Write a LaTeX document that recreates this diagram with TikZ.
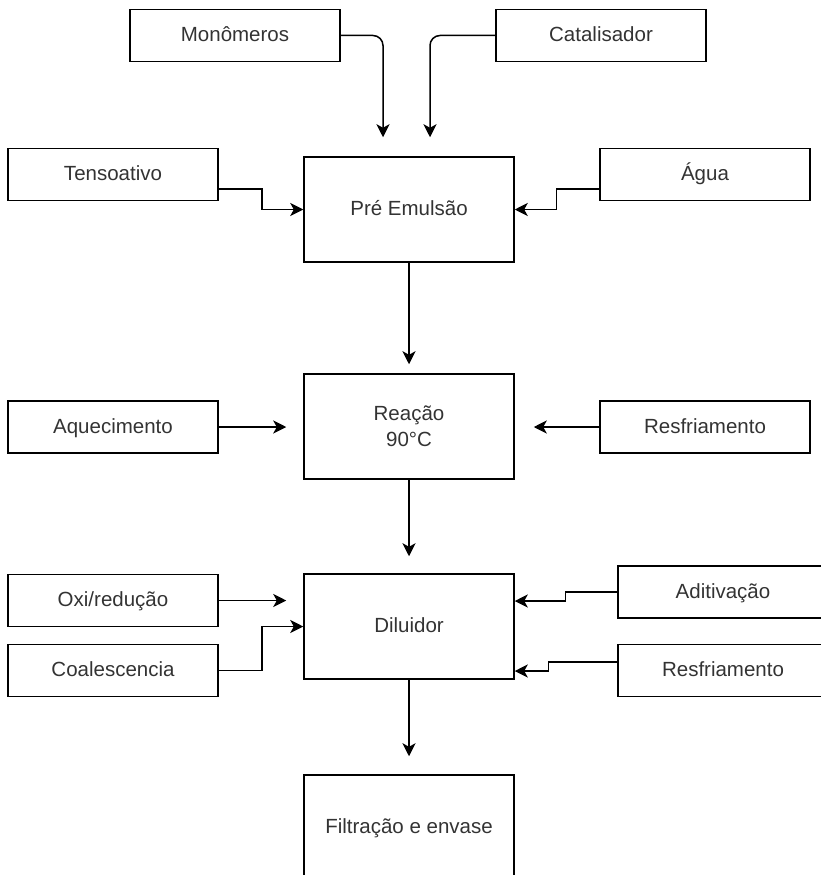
\documentclass[tikz,border=0pt]{standalone}
\usepackage{fontspec}
\setmainfont{Liberation Sans}
\usepackage{tikz}
\usetikzlibrary{arrows.meta}
\begin{document}
\begin{tikzpicture}[x=1pt,y=-1pt,
  caixa/.style={draw,line width=1.5pt,inner sep=0pt,minimum width=210pt,minimum height=52pt,text=black!80,font=\fontsize{20.5}{26}\selectfont,text height=14pt,text depth=2pt},
  etapa/.style={caixa,minimum height=105pt},
  seta/.style={line width=1.5pt,-{Stealth[length=13pt,width=13pt,inset=3.5pt]}}]
\clip (0,0) rectangle (821,875);
\node[caixa](mono) at (235,35.5) {Monômeros};
\node[caixa](cata) at (601,35.5) {Catalisador};
\node[caixa](tenso) at (113,174.5) {Tensoativo};
\node[etapa](pre) at (409,209.5) {Pré Emulsão};
\node[caixa](agua) at (705,174.5) {Água};
\node[caixa](aquec) at (113,427) {Aquecimento};
\node[etapa,text height=,text depth=,align=center](reacao) at (409,426.5) {Reação\\90°C};
\node[caixa](resf) at (705,427) {Resfriamento};
\node[caixa](oxi) at (113,600.5) {Oxi/redução};
\node[caixa](coal) at (113,670.5) {Coalescencia};
\node[etapa](dil) at (409,626.5) {Diluidor};
\node[caixa](adit) at (723,592) {Aditivação};
\node[caixa](resf2) at (723,670.5) {Resfriamento};
\node[etapa](filt) at (409,827.5) {Filtração e envase};
\draw[seta,rounded corners=10pt](mono.east) -| ([xshift=-26pt,yshift=19pt]pre.north);
\draw[seta,rounded corners=10pt](cata.west) -| ([xshift=21pt,yshift=19pt]pre.north);
\draw[seta]([yshift=-14.5pt]tenso.east) -- ++(43,0) |- (pre.west);
\draw[seta]([yshift=-14.5pt]agua.west) -- ++(-43,0) |- (pre.east);
\draw[seta](pre.south) -- ([yshift=9pt]reacao.north);
\draw[seta](aquec.east) -- ([xshift=-17pt]reacao.west |- aquec.east);
\draw[seta](resf.west) -- ([xshift=19pt]reacao.east |- resf.west);
\draw[seta](reacao.south) -- ([yshift=17pt]dil.north);
\draw[seta](oxi.east) -- ([xshift=-17pt]dil.west |- oxi.east);
\draw[seta](coal.east) -- ++(43,0) |- (dil.west);
\draw[seta](adit.west) -- ++(-52,0) |- ([yshift=25.5pt]dil.east);
\draw[seta]([yshift=8.5pt]resf2.west) -- ++(-69,0) |- ([yshift=-44.5pt]dil.east);
\draw[seta](dil.south) -- ([yshift=18pt]filt.north);
\end{tikzpicture}
\end{document}
